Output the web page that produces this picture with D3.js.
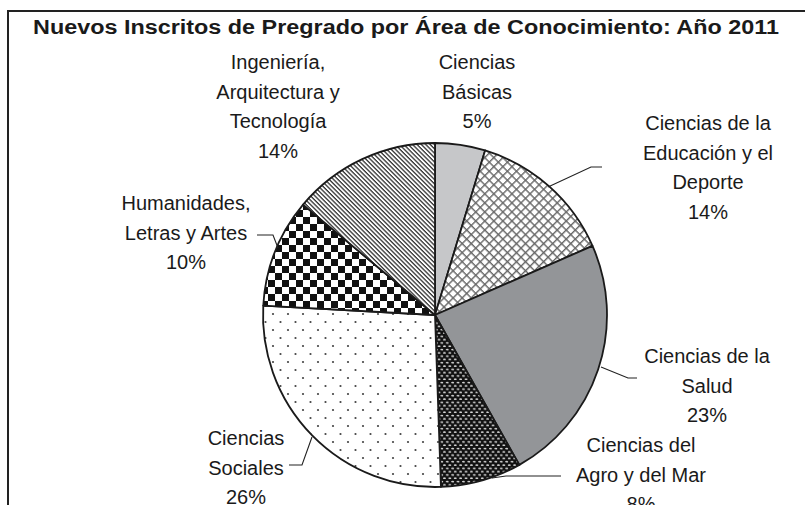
<!DOCTYPE html>
<html>
<head>
<meta charset="utf-8">
<script src="https://cdn.jsdelivr.net/npm/d3@7"></script>
<style>
  body { margin: 0; background: #fff; }
  text { font-family: "Liberation Sans", Arial, sans-serif; fill: #1a1a1a; }
</style>
</head>
<body>
<script>
// data (clockwise from 12 o'clock)
var categories = [
  "Ciencias\nBásicas",
  "Ciencias de la\nEducación y el\nDeporte",
  "Ciencias de la\nSalud",
  "Ciencias del\nAgro y del Mar",
  "Ciencias\nSociales",
  "Humanidades,\nLetras y Artes",
  "Ingeniería,\nArquitectura y\nTecnología"
];
var shares = [4.7, 13.7, 23.4, 7.6, 26.4, 10.2, 13.9];
var title = "Nuevos Inscritos de Pregrado por Área de Conocimiento: Año 2011";

// label placement (center x, first baseline) and leader lines
var labelPos = [[477, 69], [708, 130], [707, 363], [641, 452], [246, 445], [186, 210], [278, 69]];
var leaders = [
  null,
  [[548, 187], [591, 167], [602, 167]],
  [[601, 367], [628, 378], [637, 378]],
  [[492, 478], [506, 476], [561, 476]],
  [[312, 437], [302, 465], [289, 465]],
  [[278, 248], [273, 235], [257, 235]],
  null
];
var fills = ["#c6c7c9", "url(#lattice)", "#939598", "url(#agro)", "url(#dots)", "url(#checker)", "url(#stripes)"];

var W = 805, H = 505;
var cx = 435, cy = 315, R = 172;

var svg = d3.select("body").append("svg")
  .attr("width", W).attr("height", H);

// patterns
var defs = svg.append("defs");

var p = defs.append("pattern").attr("id", "lattice").attr("patternUnits", "userSpaceOnUse")
  .attr("width", 6.4).attr("height", 6.4).attr("patternTransform", "rotate(45)");
p.append("rect").attr("width", 6.4).attr("height", 6.4).attr("fill", "#fff");
p.append("rect").attr("width", 6.4).attr("height", 1.4).attr("fill", "#666");
p.append("rect").attr("width", 1.4).attr("height", 6.4).attr("fill", "#666");

p = defs.append("pattern").attr("id", "agro").attr("patternUnits", "userSpaceOnUse")
  .attr("width", 5.4).attr("height", 6.6);
p.append("rect").attr("width", 5.4).attr("height", 6.6).attr("fill", "#111");
p.append("ellipse").attr("cx", 1.4).attr("cy", 1.6).attr("rx", 1.5).attr("ry", 0.8).attr("fill", "#ddd");
p.append("ellipse").attr("cx", 4.1).attr("cy", 4.9).attr("rx", 1.5).attr("ry", 0.8).attr("fill", "#ddd");

p = defs.append("pattern").attr("id", "dots").attr("patternUnits", "userSpaceOnUse")
  .attr("width", 15).attr("height", 16).attr("x", cx).attr("y", cy);
p.append("rect").attr("width", 15).attr("height", 16).attr("fill", "#fff");
p.append("circle").attr("cx", 3).attr("cy", 4).attr("r", 1.1).attr("fill", "#444");
p.append("circle").attr("cx", 10.5).attr("cy", 12).attr("r", 1.1).attr("fill", "#444");

p = defs.append("pattern").attr("id", "checker").attr("patternUnits", "userSpaceOnUse")
  .attr("width", 14).attr("height", 14).attr("x", cx).attr("y", cy);
p.append("rect").attr("width", 14).attr("height", 14).attr("fill", "#fff");
p.append("rect").attr("width", 7).attr("height", 7).attr("fill", "#111");
p.append("rect").attr("x", 7).attr("y", 7).attr("width", 7).attr("height", 7).attr("fill", "#111");

p = defs.append("pattern").attr("id", "stripes").attr("patternUnits", "userSpaceOnUse")
  .attr("width", 3.1).attr("height", 3.1).attr("patternTransform", "rotate(45)");
p.append("rect").attr("width", 3.1).attr("height", 3.1).attr("fill", "#fff");
p.append("rect").attr("width", 3.1).attr("height", 1.3).attr("fill", "#333");

// chart border (right and bottom run off the picture)
svg.append("rect")
  .attr("x", 8).attr("y", 11).attr("width", 820).attr("height", 520)
  .attr("fill", "none").attr("stroke", "#222").attr("stroke-width", 2);

svg.append("text")
  .attr("x", 406).attr("y", 34)
  .attr("text-anchor", "middle")
  .attr("font-size", 20).attr("font-weight", "bold")
  .attr("textLength", 746).attr("lengthAdjust", "spacingAndGlyphs")
  .text(title);

// pie
var pie = d3.pie().sort(null).value(function(d) { return d; });
var arcs = pie(shares);
var arc = d3.arc().innerRadius(0).outerRadius(R);
var total = d3.sum(shares);

var g = svg.append("g").attr("transform", "translate(" + cx + "," + cy + ")");
g.selectAll("path.slice")
  .data(arcs)
  .enter().append("path")
  .attr("class", "slice")
  .attr("d", arc)
  .attr("fill", function(d, i) { return fills[i]; })
  .attr("stroke", "#1a1a1a")
  .attr("stroke-width", 1.8)
  .attr("stroke-linejoin", "round");

// leader lines
var line = d3.line();
svg.selectAll("path.leader")
  .data(leaders.filter(function(d) { return d; }))
  .enter().append("path")
  .attr("class", "leader")
  .attr("d", line)
  .attr("fill", "none")
  .attr("stroke", "#222")
  .attr("stroke-width", 1.1);

// labels
var lh = 29.5;
arcs.forEach(function(a, i) {
  var lines = categories[i].split("\n");
  lines.push(Math.round(a.data / total * 100) + "%");
  var t = svg.append("text")
    .attr("text-anchor", "middle")
    .attr("font-size", 20);
  lines.forEach(function(s, k) {
    t.append("tspan")
      .attr("x", labelPos[i][0])
      .attr("y", labelPos[i][1] + k * lh)
      .text(s);
  });
});
</script>
</body>
</html>
